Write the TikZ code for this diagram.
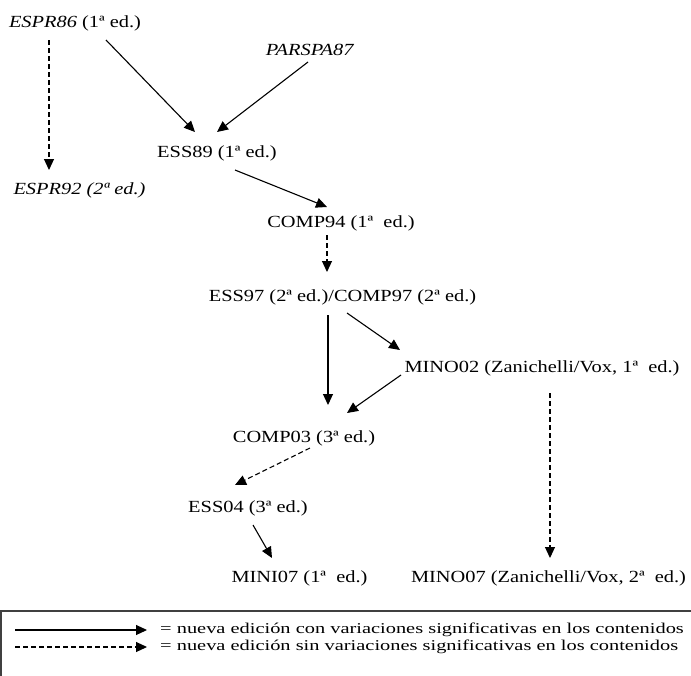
\documentclass[tikz,border=0pt]{standalone}
\usepackage{fontspec}
\setmainfont{Liberation Serif}[FakeStretch=1.2]
\newfontfamily\legfont{Liberation Serif}[FakeStretch=1.36]
\usetikzlibrary{arrows.meta}
\begin{document}
\begin{tikzpicture}[x=1pt,y=-1pt,
  lbl/.style={inner sep=0pt, font=\fontsize{17}{19}\selectfont},
  leg/.style={inner sep=0pt, anchor=west, font=\legfont\fontsize{15}{16}\selectfont},
  solidarr/.style={line width=1.1pt, -{Triangle[length=11pt,width=10pt]}},
  dasharr/.style={solidarr, dash pattern=on 5pt off 3pt},
  frame/.style={line width=1.8pt, draw=black!75}]
\useasboundingbox (0,0) rectangle (691,675);
% nodes
\node[lbl] (espr86) at (75,23) {\textit{ESPR86} (1ª ed.)};
\node[lbl] (parspa) at (310,50) {\textit{PARSPA87}};
\node[lbl] (ess89) at (217,153) {ESS89 (1ª ed.)};
\node[lbl] (espr92) at (79.5,190) {\textit{ESPR92 (2ª ed.)}};
\node[lbl] (comp94) at (341,223) {COMP94 (1ª\ \ ed.)};
\node[lbl] (ess97) at (342.5,297) {ESS97 (2ª ed.)/COMP97 (2ª ed.)};
\node[lbl] (mino02) at (542,368) {MINO02 (Zanichelli/Vox, 1ª\ \ ed.)};
\node[lbl] (comp03) at (304,438) {COMP03 (3ª ed.)};
\node[lbl] (ess04) at (248,508) {ESS04 (3ª ed.)};
\node[lbl] (mini07) at (299.5,578) {MINI07 (1ª\ \ ed.)};
\node[lbl] (mino07) at (548.5,578) {MINO07 (Zanichelli/Vox, 2ª\ \ ed.)};
% connectors
\draw[dasharr] ([xshift=-26pt,yshift=-17pt]espr86.center) -- ([xshift=-30.5pt,yshift=20pt]espr92.center);
\draw[solidarr] ([xshift=31pt,yshift=-17pt]espr86.center) -- ([xshift=-22pt,yshift=21pt]ess89.center);
\draw[solidarr] ([xshift=-2pt,yshift=-12pt]parspa.center) -- ([xshift=0pt,yshift=21pt]ess89.center);
\draw[solidarr] ([xshift=18pt,yshift=-17pt]ess89.center) -- ([xshift=-14pt,yshift=16pt]comp94.center);
\draw[dasharr] ([xshift=-14pt,yshift=-12pt]comp94.center) -- ([xshift=-15.5pt,yshift=25pt]ess97.center);
\draw[solidarr] ([xshift=-14.5pt,yshift=-18pt]ess97.center) -- ([xshift=24pt,yshift=33pt]comp03.center);
\draw[solidarr] ([xshift=4.5pt,yshift=-16pt]ess97.center) -- ([xshift=-142pt,yshift=18pt]mino02.center);
\draw[solidarr] ([xshift=-141pt,yshift=-7pt]mino02.center) -- ([xshift=43pt,yshift=25pt]comp03.center);
\draw[dasharr] ([xshift=6pt,yshift=-10pt]comp03.center) -- ([xshift=-13pt,yshift=23pt]ess04.center);
\draw[solidarr] ([xshift=5pt,yshift=-17pt]ess04.center) -- ([xshift=-27.5pt,yshift=20pt]mini07.center);
\draw[dasharr] ([xshift=8pt,yshift=-25pt]mino02.center) -- ([xshift=1.5pt,yshift=20pt]mino07.center);
% legend
\draw[frame] (1,676) -- (1,611) -- (692,611);
\coordinate (ls1) at (15,630);
\coordinate (ls2) at (147,630);
\coordinate (ld1) at (15,647);
\coordinate (ld2) at (147,647);
\draw[solidarr] (ls1) -- (ls2);
\draw[dasharr] (ld1) -- (ld2);
\node[leg] (legs) at (160,630) {= nueva edición con variaciones significativas en los contenidos};
\node[leg] (legd) at (160,647) {= nueva edición sin variaciones significativas en los contenidos};
\end{tikzpicture}
\end{document}
